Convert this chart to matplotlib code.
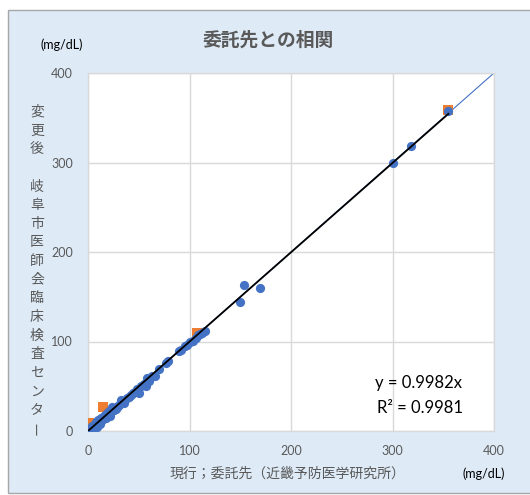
import matplotlib
matplotlib.use("Agg")
import matplotlib.pyplot as plt
from matplotlib.patches import Rectangle
import numpy as np

# ---- data ----
blue_x = [0.5, 1, 1.5, 2, 2.5, 3, 3.5, 4, 5, 5, 6, 7, 8, 8, 9, 10, 10, 11, 12, 13,
          14, 15, 16, 17, 18, 19, 20, 21, 22, 23, 24, 25, 26, 27, 28, 29, 30, 31,
          33, 35, 38, 40, 42, 44, 46, 48, 50, 52, 55, 57, 58, 60, 63, 66, 70, 77,
          79, 90, 92, 96, 98, 100, 103, 106, 108, 110, 112, 115, 150, 154, 169,
          300.5, 318, 355, 3, 6, 9, 12, 4, 18, 22]
blue_y = [1, 0.5, 2, 1, 3, 2, 4, 3, 4, 6, 5, 6, 7, 10, 8, 9, 12, 10, 11, 14,
          12, 16, 14, 18, 17, 20, 18, 22, 20, 24, 27, 23, 24, 26, 25, 27, 28, 29,
          35, 31, 37, 38, 40, 43, 44, 47, 42, 50, 53, 50, 59, 56, 61, 61, 69, 76,
          78, 89, 91, 95, 96, 100, 101, 104, 107, 108, 110, 112, 144, 163, 160,
          299, 318.5, 357, 0.5, 2, 5, 8, 6, 14, 17]
orange_x = [1, 15, 107, 355]
orange_y = [9, 27, 110, 358.5]
slope = 0.9982
r2 = 0.9981
ticks = [0, 100, 200, 300, 400]

title = "委託先との相関"
xlabel = "現行；委託先（近畿予防医学研究所）"
ylabel_chars = "変更後　岐阜市医師会臨床検査センタ"
ylabel_last = "ー"
unit = "(mg/dL)"

BLUE = "#4472C4"
ORANGE = "#ED7D31"
GRAY = "#595959"
GRID = "#D9D9D9"

plt.rcParams['font.family'] = ['Lato', 'Noto Sans CJK JP', 'DejaVu Sans']

fig = plt.figure(figsize=(5.3, 4.95), dpi=100)
fig.patch.set_facecolor("white")
W, H = 530, 495
bg = Rectangle((8 / W, 1 - 493 / H), 1.0, (493 - 10) / H, transform=fig.transFigure,
               facecolor="#DEEBF7", edgecolor="#A6A6A6", linewidth=1.0, zorder=-5)
fig.patches.append(bg)

ax = fig.add_axes([88 / W, 1 - 431 / H, (494 - 88) / W, (431 - 73) / H])
ax.set_zorder(2)
ax.set_facecolor("white")
ax.set_xlim(0, 400)
ax.set_ylim(0, 400)
ax.set_xticks(ticks)
ax.set_yticks(ticks)
ax.grid(True, color=GRID, linewidth=1.0)
ax.set_axisbelow(True)
for s in ax.spines.values():
    s.set_color(GRID)
    s.set_linewidth(1.0)
ax.tick_params(length=0, labelsize=9, labelcolor=GRAY)
ax.tick_params(axis='y', pad=11)
ax.tick_params(axis='x', pad=10)

# y = x reference (thin blue)
ref = np.array([0, 400])
ax.plot(ref, ref, color=BLUE, linewidth=0.8, zorder=2)
ax.scatter(orange_x, orange_y, marker='s', s=44, color=ORANGE, zorder=3, linewidths=0)
ax.scatter(blue_x, blue_y, marker='o', s=44, color=BLUE, zorder=4, linewidths=0)
tx = np.array([0, max(blue_x)])
ax.plot(tx, slope * tx, color="black", linewidth=1.3, zorder=5)

fig.text(375 / W, 1 - 383 / H, f"y = {slope:.4f}x", fontsize=12, color="black",
         ha='left', va='center', zorder=10)
fig.text(377 / W, 1 - 408 / H, f"R² = {r2:.4f}", fontsize=12, color="black",
         ha='left', va='center', zorder=10)

fig.text(268.5 / W, 1 - 40 / H, title, fontsize=13.5, fontweight='bold', color=GRAY,
         ha='center', va='center', family=['Noto Sans CJK JP', 'DejaVu Sans'])
fig.text(61.5 / W, 1 - 45 / H, unit, fontsize=9, color="black", ha='center', va='center')
fig.text(483.5 / W, 1 - 474 / H, unit, fontsize=9, color="black", ha='center', va='center')
fig.text(287 / W, 1 - 474 / H, xlabel, fontsize=10, color=GRAY, ha='center', va='center',
         family=['Noto Sans CJK JP', 'DejaVu Sans'])

ylab = "\n".join(ylabel_chars)
fig.text(37 / W, 1 - 105 / H, ylab, fontsize=10, color=GRAY, ha='center', va='top',
         linespacing=1.42, family=['Noto Sans CJK JP', 'DejaVu Sans'])
fig.text(37 / W, 1 - 428 / H, ylabel_last, fontsize=10, color=GRAY, ha='center',
         va='center', rotation=90, family=['Noto Sans CJK JP', 'DejaVu Sans'])

fig.savefig("out.png", dpi=100, facecolor=fig.get_facecolor())
